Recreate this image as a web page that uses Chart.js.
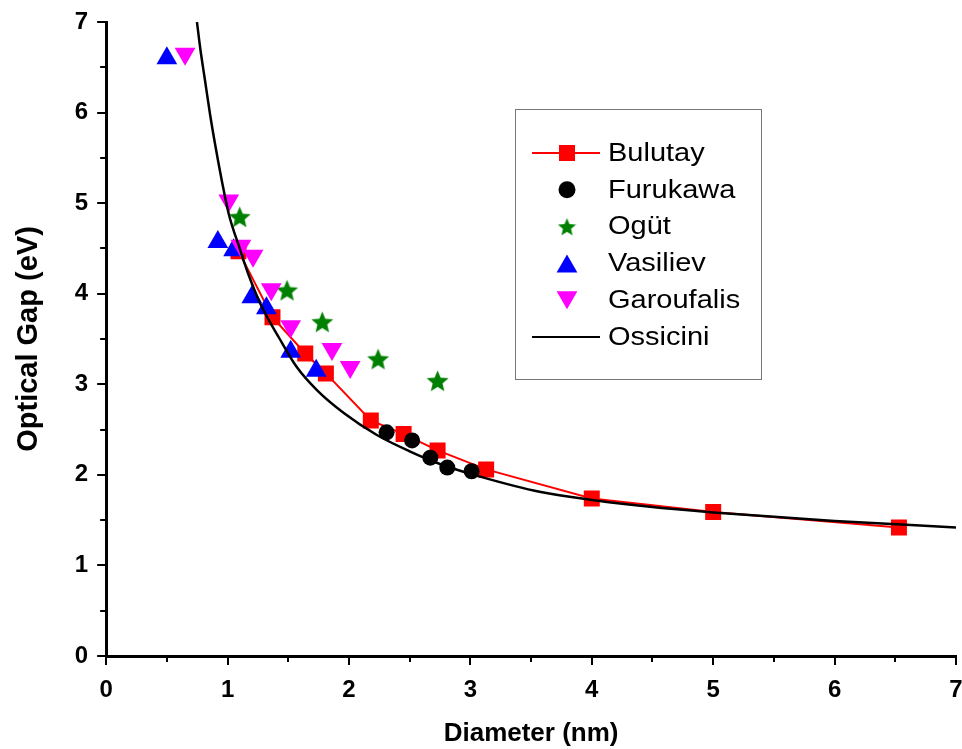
<!DOCTYPE html>
<html>
<head>
<meta charset="utf-8">
<title>Optical Gap vs Diameter</title>
<script src="https://cdn.jsdelivr.net/npm/chart.js@4.4.0/dist/chart.umd.min.js"></script>
<style>
  body { margin: 0; background: #fff; overflow: hidden; }
  #wrap { width: 962px; height: 749px; }
  #gapChart { display: block; }
</style>
</head>
<body>
<div id="wrap"><canvas id="gapChart" width="962" height="749"></canvas></div>
<script>
// values (diameter in nm, gap in eV)
var bulutayX = [1.09, 1.37, 1.64, 1.81, 2.18, 2.45, 2.73, 3.13, 4.0, 5.0, 6.53];
var bulutayY = [4.47, 3.74, 3.34, 3.12, 2.60, 2.45, 2.27, 2.06, 1.74, 1.59, 1.42];

var furukawaX = [2.31, 2.52, 2.67, 2.81, 3.01];
var furukawaY = [2.47, 2.38, 2.19, 2.08, 2.04];

var ogutX = [1.10, 1.49, 1.78, 2.24, 2.73];
var ogutY = [4.85, 4.04, 3.69, 3.28, 3.04];

var vasilievX = [0.50, 0.92, 1.05, 1.20, 1.32, 1.52, 1.73];
var vasilievY = [6.60, 4.57, 4.48, 3.96, 3.84, 3.36, 3.15];

var garoufalisX = [0.65, 1.01, 1.11, 1.21, 1.36, 1.52, 1.86, 2.01];
var garoufalisY = [6.65, 5.03, 4.53, 4.42, 4.05, 3.64, 3.39, 3.19];

var ossiciniX = [0.748, 0.775, 0.816, 0.857, 0.904, 0.954, 1.01, 1.10, 1.17, 1.27, 1.43, 1.57, 1.74, 1.96, 2.23, 2.5, 2.75, 3.08, 3.58, 4.02, 4.46, 5.0, 6.0, 7.0];
var ossiciniY = [7.0, 6.71, 6.34, 5.97, 5.60, 5.24, 4.88, 4.50, 4.22, 3.89, 3.50, 3.19, 2.93, 2.68, 2.44, 2.26, 2.12, 1.98, 1.81, 1.72, 1.65, 1.585, 1.49, 1.42];

var xTicks = [0, 1, 2, 3, 4, 5, 6, 7];
var yTicks = [0, 1, 2, 3, 4, 5, 6, 7];

var seriesNames = ['Bulutay', 'Furukawa', 'Og\u00fct', 'Vasiliev', 'Garoufalis', 'Ossicini'];

var FONT = "'Liberation Sans', Arial, sans-serif";

function pts(xs, ys) {
    var out = [];
    for (var i = 0; i < xs.length; i++) {
        out.push({ x: xs[i], y: ys[i] });
    }
    return out;
}

// filled five point star, used as point style
function makeStar(size, color) {
    var c = document.createElement('canvas');
    c.width = size; c.height = size;
    var g = c.getContext('2d');
    var cx = size / 2, cy = size / 2 + size * 0.05, ro = size / 2, ri = ro * 0.45;
    g.beginPath();
    for (var i = 0; i < 10; i++) {
        var r = (i % 2 === 0) ? ro : ri;
        var a = -Math.PI / 2 + i * Math.PI / 5;
        var px = cx + r * Math.cos(a), py = cy + r * Math.sin(a);
        if (i === 0) g.moveTo(px, py); else g.lineTo(px, py);
    }
    g.closePath();
    g.fillStyle = color;
    g.fill();
    return c;
}

var starImg = makeStar(23, '#008000');
var starSmall = makeStar(19, '#008000');

// tick marks drawn here: long ones at whole units, short ones at halves
var axisTicks = {
    id: 'axisTicks',
    afterDraw: function (chart) {
        var ctx = chart.ctx, xs = chart.scales.x, ys = chart.scales.y;
        var area = chart.chartArea;
        ctx.save();
        ctx.strokeStyle = '#000';
        ctx.lineWidth = 2;
        ctx.beginPath();
        for (var v = 0; v <= 7; v += 0.5) {
            var len = (v % 1 === 0) ? 9 : 6;
            var px = Math.round(xs.getPixelForValue(v));
            ctx.moveTo(px, area.bottom);
            ctx.lineTo(px, area.bottom + len);
            var py = Math.round(ys.getPixelForValue(v));
            ctx.moveTo(area.left, py);
            ctx.lineTo(area.left - len, py);
        }
        ctx.stroke();
        ctx.restore();
    }
};

function drawTri(ctx, x, y, r, down) {
    ctx.beginPath();
    var s = down ? -1 : 1;
    ctx.moveTo(x, y - s * r);
    ctx.lineTo(x + r * 0.866, y + s * r * 0.5);
    ctx.lineTo(x - r * 0.866, y + s * r * 0.5);
    ctx.closePath();
    ctx.fill();
}

// boxed legend inside the plot, like the original
var boxLegend = {
    id: 'boxLegend',
    afterDraw: function (chart) {
        var ctx = chart.ctx;
        var left = 515, top = 109, w = 246, h = 270;
        var symX = 567, textX = 608, rowY = 153, step = 36.8;
        ctx.save();
        ctx.fillStyle = '#fff';
        ctx.fillRect(left, top, w, h);
        ctx.strokeStyle = '#777';
        ctx.lineWidth = 1;
        ctx.strokeRect(left + 0.5, top + 0.5, w, h);

        for (var i = 0; i < seriesNames.length; i++) {
            var y = rowY + i * step;
            if (i === 0) {
                ctx.strokeStyle = '#ff0000';
                ctx.lineWidth = 2;
                ctx.beginPath(); ctx.moveTo(532, y); ctx.lineTo(600, y); ctx.stroke();
                ctx.fillStyle = '#ff0000';
                ctx.fillRect(symX - 8, y - 8, 16, 16);
            } else if (i === 1) {
                ctx.fillStyle = '#000';
                ctx.beginPath(); ctx.arc(symX, y, 8.5, 0, Math.PI * 2); ctx.fill();
            } else if (i === 2) {
                ctx.drawImage(starSmall, symX - 9.5, y - 9.5);
            } else if (i === 3) {
                ctx.fillStyle = '#0000ff';
                drawTri(ctx, symX, y + 3, 12, false);
            } else if (i === 4) {
                ctx.fillStyle = '#ff00ff';
                drawTri(ctx, symX, y - 3, 12, true);
            } else {
                ctx.strokeStyle = '#000';
                ctx.lineWidth = 2;
                ctx.beginPath(); ctx.moveTo(532, y); ctx.lineTo(600, y); ctx.stroke();
            }
            // original text is a little wider than Arial, stretch it
            ctx.save();
            ctx.translate(textX, y + 1);
            ctx.scale(1.16, 1);
            ctx.fillStyle = '#000';
            ctx.font = '25px ' + FONT;
            ctx.textBaseline = 'middle';
            ctx.textAlign = 'left';
            ctx.fillText(seriesNames[i], 0, 0);
            ctx.restore();
        }
        ctx.restore();
    }
};

var hidden = 'rgba(0,0,0,0)';

var ctx = document.getElementById('gapChart').getContext('2d');
var gapChart = new Chart(ctx, {
    type: 'scatter',
    data: {
        datasets: [
            {
                label: seriesNames[5],
                data: pts(ossiciniX, ossiciniY),
                showLine: true,
                borderColor: '#000',
                borderWidth: 2.5,
                pointRadius: 0,
                cubicInterpolationMode: 'monotone',
                order: 0
            },
            {
                label: seriesNames[4],
                data: pts(garoufalisX, garoufalisY),
                pointStyle: 'triangle',
                rotation: 180,
                pointRadius: 12,
                backgroundColor: '#ff00ff',
                borderColor: '#ff00ff',
                borderWidth: 0,
                order: 1
            },
            {
                label: seriesNames[3],
                data: pts(vasilievX, vasilievY),
                pointStyle: 'triangle',
                pointRadius: 12,
                backgroundColor: '#0000ff',
                borderColor: '#0000ff',
                borderWidth: 0,
                order: 2
            },
            {
                label: seriesNames[2],
                data: pts(ogutX, ogutY),
                pointStyle: starImg,
                pointRadius: 11,
                order: 3
            },
            {
                label: seriesNames[1],
                data: pts(furukawaX, furukawaY),
                pointStyle: 'circle',
                pointRadius: 8,
                backgroundColor: '#000',
                borderColor: '#000',
                borderWidth: 0,
                order: 4
            },
            {
                label: seriesNames[0],
                data: pts(bulutayX, bulutayY),
                showLine: true,
                borderColor: '#ff0000',
                borderWidth: 2,
                pointStyle: 'rect',
                pointRadius: 11.3,
                pointBackgroundColor: '#ff0000',
                pointBorderColor: '#ff0000',
                pointBorderWidth: 0,
                order: 5
            }
        ]
    },
    options: {
        responsive: false,
        animation: false,
        layout: { autoPadding: false, padding: { top: 22, right: 0, bottom: 0, left: 0 } },
        plugins: {
            legend: { display: false },
            tooltip: { enabled: false }
        },
        scales: {
            x: {
                type: 'linear',
                min: xTicks[0],
                max: xTicks[xTicks.length - 1],
                afterBuildTicks: function (scale) {
                    scale.ticks = xTicks.map(function (v) { return { value: v }; });
                },
                afterFit: function (scale) {
                    // only leave room for half of the last label
                    scale.paddingRight = 6;
                },
                border: { display: true, color: '#000', width: 3 },
                grid: { drawOnChartArea: false, drawTicks: true, tickLength: 20, tickColor: hidden },
                ticks: { color: '#000', padding: 0, maxRotation: 0, font: { family: FONT, size: 24, weight: 'bold' } },
                title: { display: true, text: 'Diameter (nm)', color: '#000', padding: { top: 13, bottom: 0 }, font: { family: FONT, size: 26, weight: 'bold' } }
            },
            y: {
                type: 'linear',
                min: yTicks[0],
                max: yTicks[yTicks.length - 1],
                afterBuildTicks: function (scale) {
                    scale.ticks = yTicks.map(function (v) { return { value: v }; });
                },
                border: { display: true, color: '#000', width: 3 },
                grid: { drawOnChartArea: false, drawTicks: true, tickLength: 18, tickColor: hidden },
                ticks: { color: '#000', padding: 0, font: { family: FONT, size: 24, weight: 'bold' } },
                title: { display: true, text: 'Optical Gap (eV)', color: '#000', padding: { top: 12, bottom: 28 }, font: { family: FONT, size: 29, weight: 'bold' } }
            }
        }
    },
    plugins: [axisTicks, boxLegend]
});
</script>
</body>
</html>
